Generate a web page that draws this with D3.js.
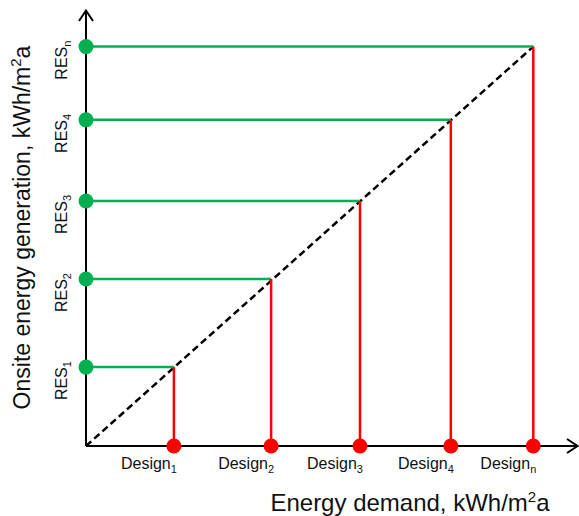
<!DOCTYPE html>
<html>
<head>
<meta charset="utf-8">
<script src="https://cdn.jsdelivr.net/npm/d3@7"></script>
<style>
  html, body { margin: 0; padding: 0; background: #fff; }
  text { font-family: "Liberation Sans", Arial, sans-serif; fill: #111; }
</style>
</head>
<body>
<svg id="chart" width="579" height="516"></svg>
<script>
// Data (arbitrary units, equal for both axes)
const designLabels = ["1", "2", "3", "4", "n"];        // Design subscripts
const resLabels = ["1", "2", "3", "4", "n"];           // RES subscripts
const demand = [17.9, 37.7, 55.8, 74.3, 91.1];         // Energy demand, kWh/m²a
const generation = [18.1, 38.3, 56.2, 74.8, 91.6];     // Onsite generation, kWh/m²a
const xDomain = [0, 100];
const yDomain = [0, 100];

const svg = d3.select("#chart");
const x = d3.scaleLinear().domain(xDomain).range([86, 577]);
const y = d3.scaleLinear().domain(yDomain).range([446, 10]);

const green = "#00B050", red = "#FF0000";
const pts = demand.map((d, i) => ({ d, g: generation[i], dl: designLabels[i], rl: resLabels[i] }));

// dashed diagonal
const last = pts[pts.length - 1];
svg.append("path")
  .attr("d", d3.line().x(p => x(p[0])).y(p => y(p[1]))([[0, 0], [last.d, last.g]]))
  .attr("stroke", "#000").attr("stroke-width", 2.5).attr("stroke-dasharray", "7,4").attr("fill", "none");

// green horizontal lines
svg.selectAll(".gl").data(pts).join("line")
  .attr("x1", x(0)).attr("x2", p => x(p.d))
  .attr("y1", p => y(p.g)).attr("y2", p => y(p.g))
  .attr("stroke", green).attr("stroke-width", 2.5);

// red vertical lines
svg.selectAll(".rl").data(pts).join("line")
  .attr("x1", p => x(p.d)).attr("x2", p => x(p.d))
  .attr("y1", p => y(p.g)).attr("y2", y(0))
  .attr("stroke", red).attr("stroke-width", 2.5);

// axes
svg.append("line").attr("x1", x(0)).attr("x2", x(0)).attr("y1", y(0)).attr("y2", 10)
  .attr("stroke", "#000").attr("stroke-width", 2);
svg.append("line").attr("x1", x(0)).attr("x2", 577).attr("y1", y(0)).attr("y2", y(0))
  .attr("stroke", "#000").attr("stroke-width", 2);
// arrow heads
svg.append("path").attr("d", `M${x(0) - 7},21 L${x(0)},10.5 L${x(0) + 7},21`)
  .attr("stroke", "#000").attr("stroke-width", 2).attr("fill", "none");
svg.append("path").attr("d", `M567,${y(0) - 7} L577.5,${y(0)} L567,${y(0) + 7}`)
  .attr("stroke", "#000").attr("stroke-width", 2).attr("fill", "none");

// dots
svg.selectAll(".gd").data(pts).join("circle")
  .attr("cx", x(0)).attr("cy", p => y(p.g)).attr("r", 7.5).attr("fill", green);
svg.selectAll(".rd").data(pts).join("circle")
  .attr("cx", p => x(p.d)).attr("cy", y(0)).attr("r", 7.5).attr("fill", red);

// Design labels
const dt = svg.selectAll(".dlab").data(pts).join("text")
  .attr("x", p => x(p.d) + 3).attr("y", 469)
  .attr("text-anchor", "end").attr("font-size", 16);
dt.append("tspan").text("Design");
dt.append("tspan").attr("font-size", 11).attr("dy", 4).text(p => p.dl);

// RES labels
const rt = svg.selectAll(".rlab").data(pts).join("text")
  .attr("transform", p => `translate(67,${y(p.g) - 6}) rotate(-90)`)
  .attr("text-anchor", "end").attr("font-size", 16);
rt.append("tspan").text("RES");
rt.append("tspan").attr("font-size", 11).attr("dy", 4).text(p => p.rl);

// axis titles
const xt = svg.append("text").attr("x", 410).attr("y", 511)
  .attr("text-anchor", "middle").attr("font-size", 24);
xt.append("tspan").text("Energy demand, kWh/m");
xt.append("tspan").attr("font-size", 15).attr("dy", -9).text("2");
xt.append("tspan").attr("dy", 9).text("a");

const yt = svg.append("text").attr("transform", "translate(30,227.5) rotate(-90)")
  .attr("text-anchor", "middle").attr("font-size", 23);
yt.append("tspan").text("Onsite energy generation, kWh/m");
yt.append("tspan").attr("font-size", 15).attr("dy", -9).text("2");
yt.append("tspan").attr("dy", 9).text("a");
</script>
</body>
</html>
